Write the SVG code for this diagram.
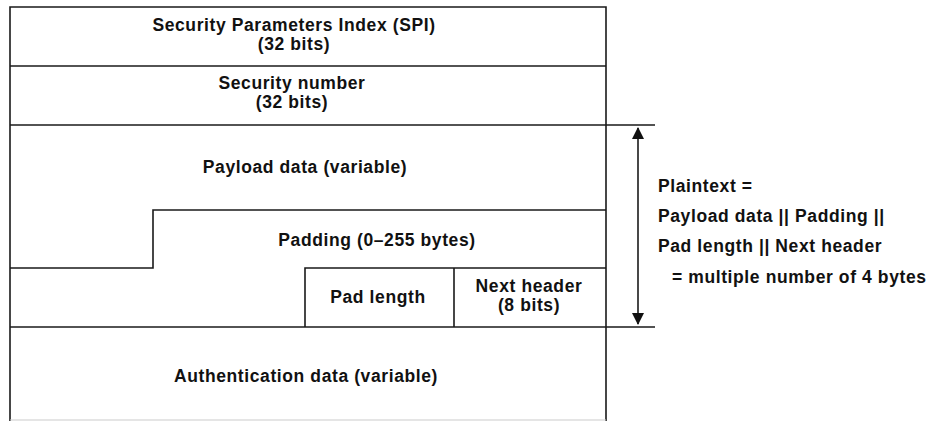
<svg xmlns="http://www.w3.org/2000/svg" width="928" height="421" viewBox="0 0 928 421">
<style>
.ln{stroke:#1a1a1a;stroke-width:1.6;fill:none}
.t{font-family:"Liberation Sans",Arial,sans-serif;font-weight:bold;font-size:17.5px;letter-spacing:0.6px;fill:#111}
.c{text-anchor:middle}
</style>
<defs>
<marker id="ah" viewBox="0 0 12 12" refX="11" refY="6" markerWidth="12" markerHeight="12" markerUnits="userSpaceOnUse" orient="auto-start-reverse">
<path d="M0,0 L12,6 L0,12 z" fill="#111"/>
</marker>
</defs>
<rect width="928" height="421" fill="#fff"/>
<g id="frame">
<path class="ln" d="M10,421 V7 H606 V421"/>
<path d="M10,420 H606" stroke="#ccc" stroke-width="1.2"/>
</g>
<g id="spi">
<path class="ln" d="M10,66 H606"/>
<text class="t c" x="294" y="31">Security Parameters Index (SPI)</text>
<text class="t c" x="294" y="50">(32 bits)</text>
</g>
<g id="seqnum">
<path class="ln" d="M10,125 H606"/>
<text class="t c" x="292" y="89">Security number</text>
<text class="t c" x="292" y="108">(32 bits)</text>
</g>
<g id="payload">
<text class="t c" x="305" y="173">Payload data (variable)</text>
</g>
<g id="padding">
<path class="ln" d="M606,210 H153 V268 H10"/>
<text class="t c" x="377" y="246">Padding (0–255 bytes)</text>
</g>
<g id="padlength">
<path class="ln" d="M606,268 H305 V327 M454,268 V327"/>
<text class="t c" x="378" y="303">Pad length</text>
</g>
<g id="nextheader">
<text class="t c" x="529" y="292">Next header</text>
<text class="t c" x="529" y="311">(8 bits)</text>
</g>
<g id="auth">
<path class="ln" d="M10,327 H606"/>
<text class="t c" x="306" y="382">Authentication data (variable)</text>
</g>
<g id="connectors">
<path class="ln" d="M606,125 H655 M606,327 H655"/>
<path class="ln" d="M638,128 V324" marker-start="url(#ah)" marker-end="url(#ah)"/>
</g>
<g id="plaintext-note">
<text class="t" x="658" y="192">Plaintext =</text>
<text class="t" x="658" y="222">Payload data || Padding ||</text>
<text class="t" x="658" y="252">Pad length || Next header</text>
<text class="t" x="672" y="283" letter-spacing="0.45">= multiple number of 4 bytes</text>
</g>
</svg>
